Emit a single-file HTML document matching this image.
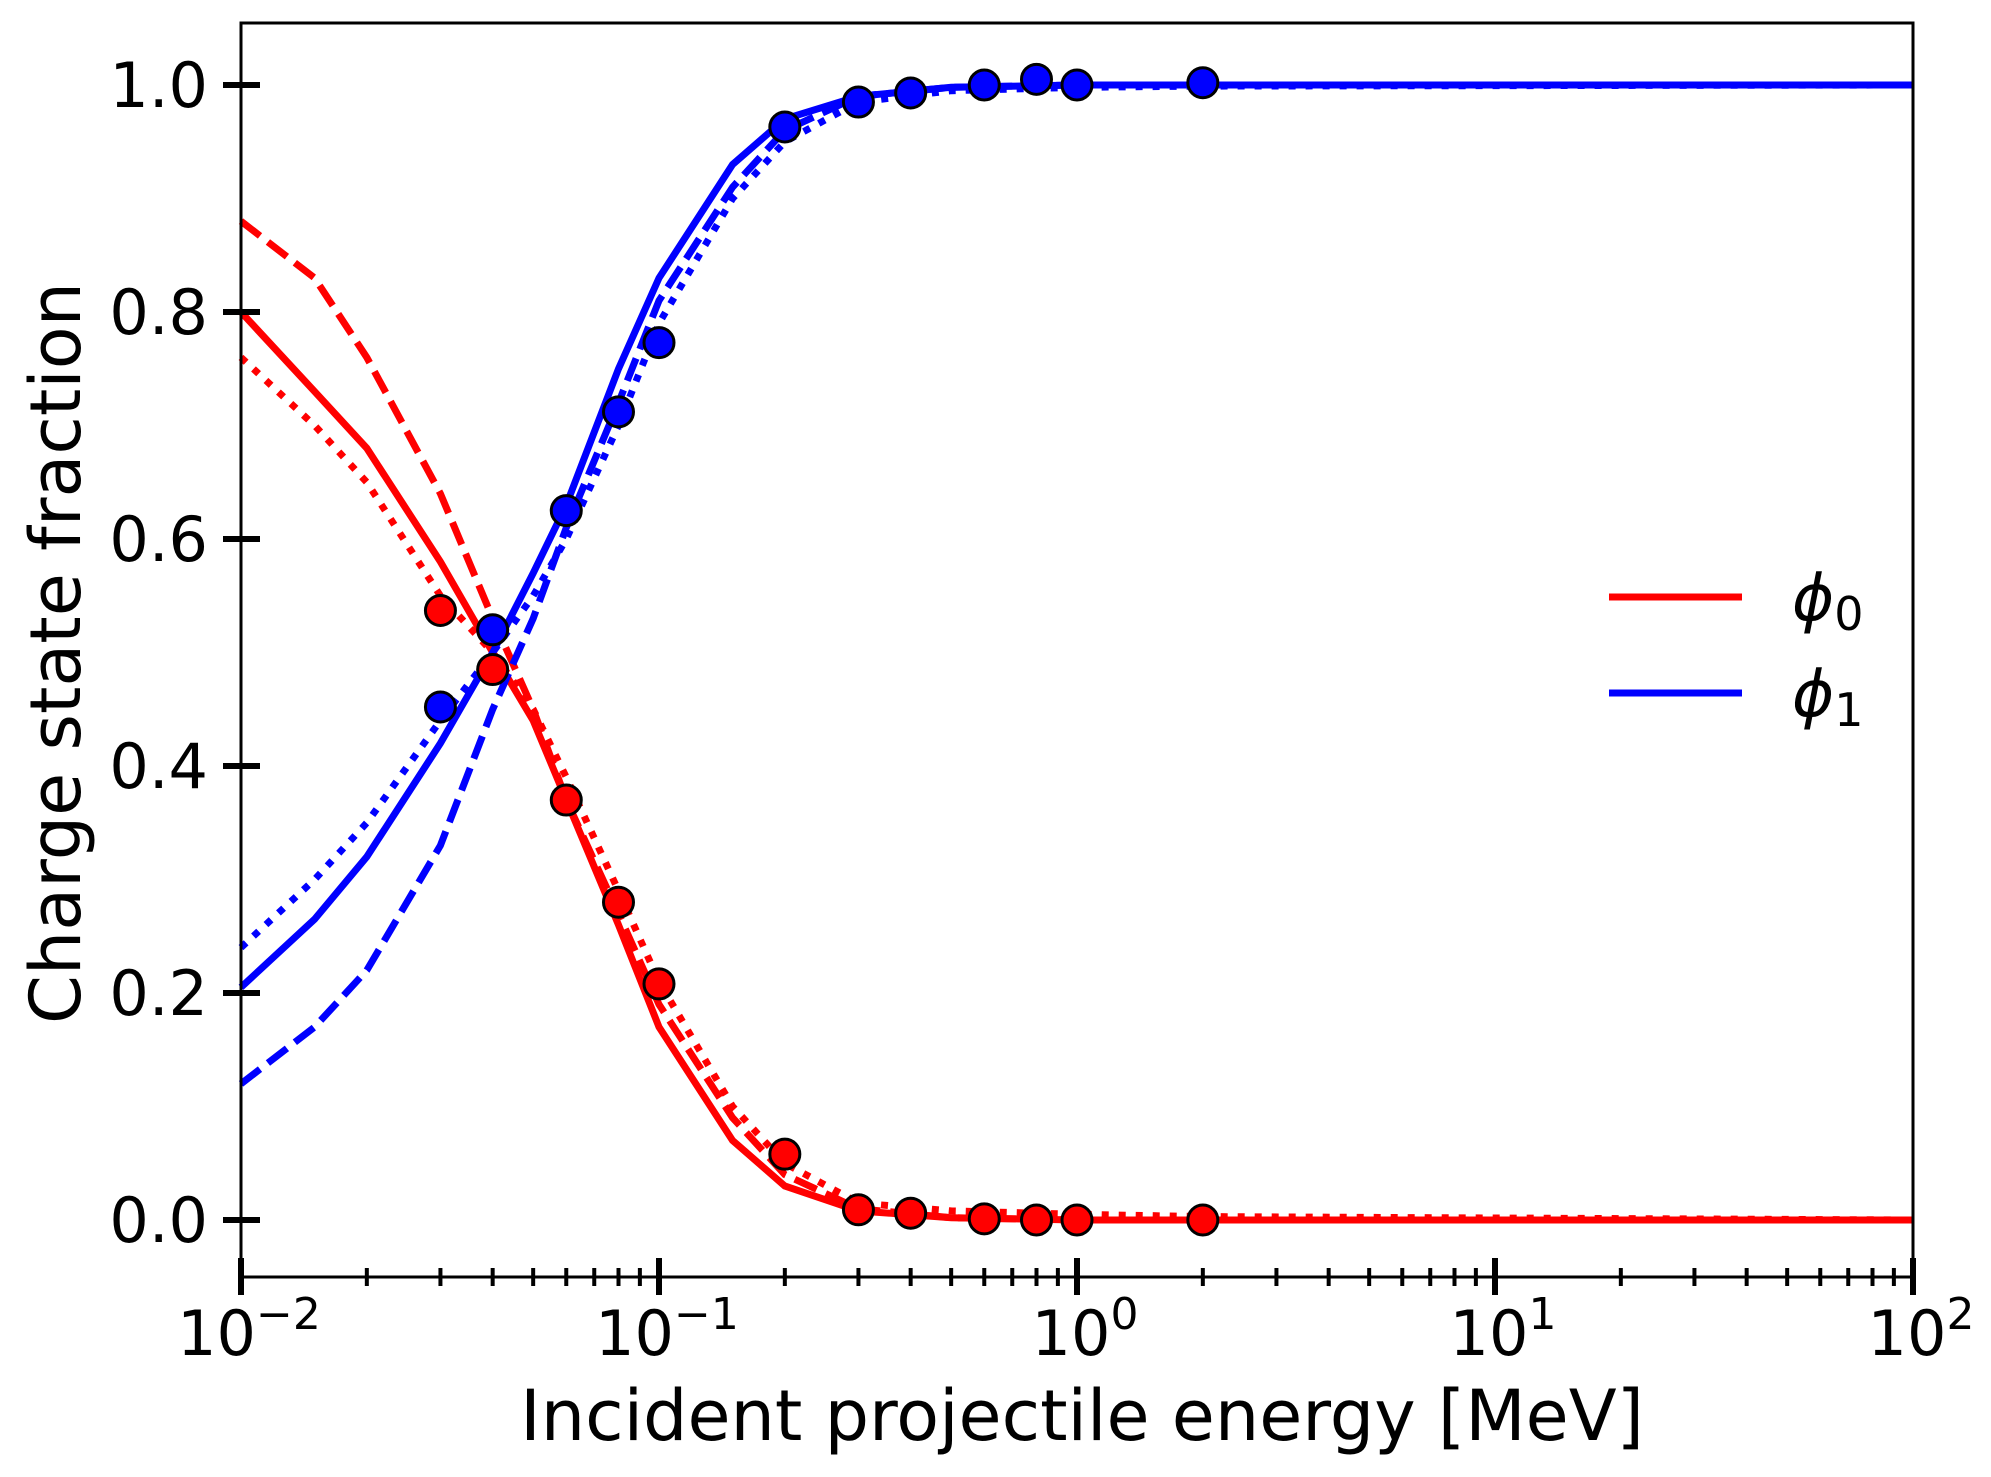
<!DOCTYPE html>
<html><head><meta charset="utf-8"><style>
html,body{margin:0;padding:0;background:#fff;}
svg{display:block;font-family:"DejaVu Sans","Liberation Sans",sans-serif;}
</style></head><body>
<svg id="chart" width="1991" height="1477" viewBox="0 0 1991 1477">
<g id="plot"></g>
<g id="axes"></g>
</svg>
<script>
const xGrid = [0.01,0.015,0.02,0.03,0.04,0.05,0.06,0.08,0.1,0.15,0.2,0.3,0.5,1,2,100];
const redSolid   = [0.80,0.73,0.68,0.58,0.50,0.44,0.37,0.26,0.17,0.07,0.03,0.008,0.002,0,0,0];
const blueSolid  = [0.205,0.265,0.32,0.42,0.50,0.57,0.63,0.75,0.83,0.93,0.97,0.99,0.998,1,1,1];
const redDashed  = [0.88,0.83,0.76,0.64,0.53,0.45,0.37,0.27,0.19,0.09,0.04,0.01,0.002,0,0,0];
const blueDashed = [0.12,0.17,0.22,0.33,0.45,0.53,0.61,0.72,0.81,0.91,0.96,0.99,0.998,1,1,1];
const redDotted  = [0.76,0.70,0.65,0.55,0.50,0.45,0.39,0.29,0.21,0.10,0.05,0.015,0.008,0.005,0.003,0];
const blueDotted = [0.24,0.30,0.35,0.44,0.50,0.55,0.60,0.70,0.79,0.90,0.95,0.985,0.995,0.998,0.999,1];
const expX    = [0.03,0.04,0.06,0.08,0.1,0.2,0.3,0.4,0.6,0.8,1,2];
const expRed  = [0.537,0.485,0.37,0.28,0.208,0.058,0.009,0.006,0.001,0,0,0];
const expBlue = [0.452,0.52,0.625,0.712,0.773,0.963,0.985,0.993,1.0,1.005,1.0,1.002];
const yTicks = [0,0.2,0.4,0.6,0.8,1.0];
const yTickLabels = ["0.0","0.2","0.4","0.6","0.8","1.0"];
const xTickExps = [-2,-1,0,1,2];

const NS="http://www.w3.org/2000/svg";
const L=241,R=1913,T=23,B=1277;
function X(v){return L+(Math.log10(v)+2)/4*(R-L);}
function Y(v){return 1220-v*1135;}
function mk(tag,attrs,parent){const e=document.createElementNS(NS,tag);for(const k in attrs)e.setAttribute(k,attrs[k]);parent.appendChild(e);return e;}
const plot=document.getElementById('plot'), axes=document.getElementById('axes');

function line(xs,ys,color,dash,name){
  const d=xs.map((x,i)=>(i?'L':'M')+X(x).toFixed(1)+','+Y(ys[i]).toFixed(1)).join(' ');
  const p=mk('path',{d:d,fill:'none',stroke:color,'stroke-width':7,'stroke-dasharray':dash},plot);
  
  
}
line(xGrid,redSolid,'#f00','none','phi0-solid-line');
line(xGrid,redDashed,'#f00','24 10','phi0-dashed-line');
line(xGrid,redDotted,'#f00','7 10','phi0-dotted-line');
line(xGrid,blueSolid,'#00f','none','phi1-solid-line');
line(xGrid,blueDashed,'#00f','24 10','phi1-dashed-line');
line(xGrid,blueDotted,'#00f','7 10','phi1-dotted-line');
expX.forEach((x,i)=>{
  const c1=mk('circle',{cx:X(x),cy:Y(expRed[i]),r:15,fill:'#f00',stroke:'#000','stroke-width':3},plot);
  
  
  const c2=mk('circle',{cx:X(x),cy:Y(expBlue[i]),r:15,fill:'#00f',stroke:'#000','stroke-width':3},plot);
  
  
});
const fr=mk('rect',{x:L,y:T,width:R-L,height:B-T,fill:'none',stroke:'#000','stroke-width':3},axes);


yTicks.forEach((v,i)=>{
  mk('line',{x1:223,x2:260,y1:Y(v),y2:Y(v),stroke:'#000','stroke-width':6},axes);
  const t=mk('text',{x:208,y:Y(v)+22,'font-size':62,'text-anchor':'end'},axes);
  t.textContent=yTickLabels[i];
  
  
});
xTickExps.forEach((e,i)=>{
  const x=X(Math.pow(10,e));
  mk('line',{x1:x,x2:x,y1:1258,y2:1295,stroke:'#000','stroke-width':6},axes);
  if(i<xTickExps.length-1){for(let k=2;k<10;k++){const xm=X(k*Math.pow(10,e));mk('line',{x1:xm,x2:xm,y1:1268,y2:1286,stroke:'#000','stroke-width':4},axes);}}
  const t=mk('text',{x:x+8,y:1355,'font-size':62,'text-anchor':'middle'},axes);
  
  
  const a=mk('tspan',{},t);a.textContent='10';
  const b=mk('tspan',{'font-size':44,dy:-26},t);b.textContent=(e<0?'\u2212':'')+Math.abs(e);
});
</script>
<svg style="position:absolute;left:0;top:0" width="1991" height="1477">
<text x="1082" y="1440" font-size="70" text-anchor="middle" font-family="DejaVu Sans, Liberation Sans, sans-serif">Incident projectile energy [MeV]</text>
<text transform="translate(80,653) rotate(-90)" font-size="70" text-anchor="middle" font-family="DejaVu Sans, Liberation Sans, sans-serif">Charge state fraction</text>
<g>
<line x1="1609" x2="1742" y1="597" y2="597" stroke="#f00" stroke-width="7"/>
<line x1="1609" x2="1742" y1="693" y2="693" stroke="#00f" stroke-width="7"/>
<text x="1792" y="620" font-size="64" font-style="italic" font-family="DejaVu Sans, sans-serif">ϕ<tspan font-style="normal" font-size="46" dy="10">0</tspan></text>
<text x="1792" y="716" font-size="64" font-style="italic" font-family="DejaVu Sans, sans-serif">ϕ<tspan font-style="normal" font-size="46" dy="10">1</tspan></text>
</g>
</svg>
</body></html>
